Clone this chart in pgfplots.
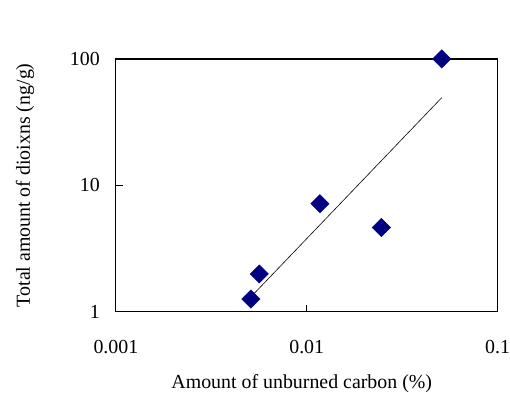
\documentclass[border=0pt]{standalone}
\usepackage{pgfplots}
\pgfplotsset{compat=1.18}
\usepackage{fontspec}
\setmainfont{Liberation Serif}
\definecolor{navymark}{RGB}{0,0,128}
\begin{document}
\fontsize{19.9bp}{23bp}\selectfont
\begin{tikzpicture}
\begin{axis}[
  scale only axis,
  width=382bp, height=253bp,
  xmode=log, ymode=log,
  xmin=0.001, xmax=0.1, ymin=1, ymax=100,
  xtick={0.001,0.01,0.1}, xticklabels={0.001,0.01,0.1},
  ytick={1,10,100}, yticklabels={1,10,100},
  xminorticks=false, yminorticks=false,
  tick align=inside, xtick pos=bottom, ytick pos=left,
  major tick length=7bp,
  axis line style={line width=1.2bp},
  every tick/.style={black, line width=0.8bp},
  /pgf/number format/assume math mode=true,
  xticklabel style={anchor=center, yshift=-35bp, inner sep=0pt},
  yticklabel style={anchor=east, xshift=-16bp, inner sep=0pt},
  xlabel={Amount of unburned carbon (\%)},
  ylabel={Total amount of dioixns (ng/g)},
  every axis x label/.style={at={(axis description cs:0.487,-0.285)}, anchor=center},
  every axis y label/.style={at={(axis description cs:-0.238,0.5)}, anchor=center, rotate=90},
  clip=false,
]
\coordinate (SW) at (rel axis cs:0,0);
\coordinate (NE) at (rel axis cs:1,1);
\addplot[black, line width=0.6bp, no marks] coordinates {(0.0051,1.31) (0.051,49.4)};
\addplot[only marks, mark=square*, mark size=6.5bp, mark options={rotate=45, fill=navymark, draw=navymark}] coordinates {
(0.00510,1.26)
(0.00564,1.99)
(0.01173,7.16)
(0.0246,4.64)
(0.0510,100)
};
\end{axis}
\path[use as bounding box] ([xshift=-116bp,yshift=-82bp]SW) rectangle ([xshift=12bp,yshift=59bp]NE);
\end{tikzpicture}
\end{document}
